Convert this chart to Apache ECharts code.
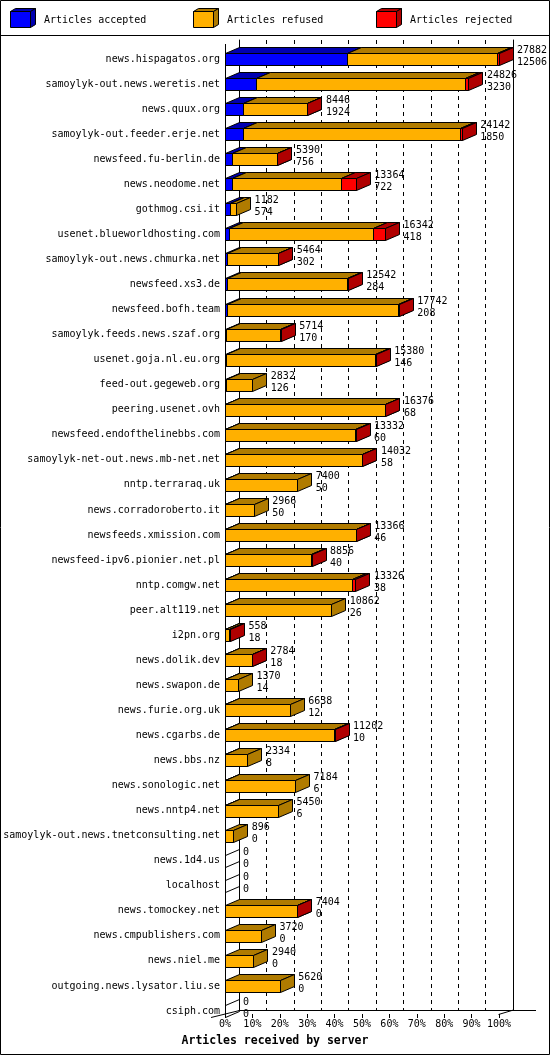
<!DOCTYPE html>
<html><head><meta charset="utf-8">
<style>html,body{margin:0;padding:0;background:#fff}#c{width:550px;height:1055px}</style>
<script src="https://cdn.jsdelivr.net/npm/echarts/dist/echarts.min.js"></script>
</head><body><div id="c"></div>
<script>
const categories = [
  'news.hispagatos.org','samoylyk-out.news.weretis.net','news.quux.org','samoylyk-out.feeder.erje.net',
  'newsfeed.fu-berlin.de','news.neodome.net','gothmog.csi.it','usenet.blueworldhosting.com',
  'samoylyk-out.news.chmurka.net','newsfeed.xs3.de','newsfeed.bofh.team','samoylyk.feeds.news.szaf.org',
  'usenet.goja.nl.eu.org','feed-out.gegeweb.org','peering.usenet.ovh','newsfeed.endofthelinebbs.com',
  'samoylyk-net-out.news.mb-net.net','nntp.terraraq.uk','news.corradoroberto.it','newsfeeds.xmission.com',
  'newsfeed-ipv6.pionier.net.pl','nntp.comgw.net','peer.alt119.net','i2pn.org','news.dolik.dev',
  'news.swapon.de','news.furie.org.uk','news.cgarbs.de','news.bbs.nz','news.sonologic.net',
  'news.nntp4.net','samoylyk-out.news.tnetconsulting.net','news.1d4.us','localhost','news.tomockey.net',
  'news.cmpublishers.com','news.niel.me','outgoing.news.lysator.liu.se','csiph.com'
];
// total articles offered (first label) and accepted (second label)
const totalArticles = [27882,24826,8446,24142,5390,13364,1182,16342,5464,12542,17742,5714,15380,2832,16376,13332,14032,7400,2966,13366,8856,13326,10862,558,2784,1370,6638,11202,2334,7184,5450,896,0,0,7404,3720,2940,5620,0];
const acceptedArticles = [12506,3230,1924,1850,756,722,574,418,302,284,208,170,146,126,68,60,58,50,50,46,40,38,26,18,18,14,12,10,8,6,6,0,0,0,0,0,0,0,0];
const refusedArticles = [15226,21196,6462,22092,4594,11162,608,14704,5132,12228,17494,5524,15204,2706,16278,13242,13944,7350,2916,13300,8796,12948,10836,480,2746,1356,6626,11142,2326,7178,5444,896,0,0,7384,3720,2940,5620,0];
const rejectedArticles = [150,400,60,200,40,1480,0,1220,30,30,40,20,30,0,30,30,30,0,0,20,20,340,0,60,20,0,0,50,0,0,0,0,0,0,20,0,0,0,0];
const seriesNames = ['Articles accepted','Articles refused','Articles rejected'];
const axisTitle = 'Articles received by server';

const maxTotal = Math.max(...totalArticles);
const FONT = '"DejaVu Sans Mono", monospace';
const FRONT = ['#0000ff', '#ffb000', '#ff0000'];
const DARK = ['#0000b0', '#b07b00', '#b00000'];
const DX = 14, DY = 6, HH = 6;

function poly(points, fill) {
  return {type: 'polygon', shape: {points: points}, style: {fill: fill || 'none', stroke: '#000', lineWidth: 1}};
}
function px(v) { return Math.round(v - 0.5) + 0.5; }

function renderItem(params, api) {
  const i = api.value(0);
  const vals = [api.value(1), api.value(2), api.value(3)];
  const total = api.value(4);
  const base = api.coord([0, i]);
  const top = Math.round(base[1] - HH) + 0.5;
  const bot = top + 2 * HH;
  const yc = (top + bot) / 2;
  const children = [];
  let x = px(base[0]);
  let cum = 0;
  for (let s = 0; s < 3; s++) {
    const v = vals[s];
    if (!(v > 0)) continue;
    cum += v;
    const x2 = px(api.coord([cum / maxTotal * 100, i])[0]);
    children.push(poly([[x, top], [x2, top], [x2, bot], [x, bot]], FRONT[s]));
    children.push(poly([[x, top], [x + DX, top - DY], [x2 + DX, top - DY], [x2, top]], DARK[s]));
    children.push(poly([[x2, top], [x2 + DX, top - DY], [x2 + DX, bot - DY], [x2, bot]], DARK[s]));
    x = x2;
  }
  if (total <= 0) {
    children.push(poly([[x, top], [x + DX, top - DY], [x + DX, bot - DY], [x, bot]], null));
  }
  const xe = api.coord([total / maxTotal * 100, i])[0] + DX + 4;
  children.push({type: 'text', style: {text: String(total), x: xe, y: yc - 9, verticalAlign: 'middle', font: '10px ' + FONT, fill: '#000'}});
  children.push({type: 'text', style: {text: String(vals[0]), x: xe, y: yc + 2.5, verticalAlign: 'middle', font: '10px ' + FONT, fill: '#000'}});
  return {type: 'group', children: children};
}

const data = categories.map((c, i) => [i, acceptedArticles[i], refusedArticles[i], rejectedArticles[i], totalArticles[i]]);

const chart = echarts.init(document.getElementById('c'), null, {renderer: 'canvas'});

function cube(x, s) {
  return [
    {type: 'rect', shape: {x: x + 0.5, y: 11.5, width: 20, height: 16}, style: {fill: FRONT[s], stroke: '#000', lineWidth: 1}},
    poly([[x + 0.5, 11.5], [x + 5.5, 8.5], [x + 25.5, 8.5], [x + 20.5, 11.5]], DARK[s]),
    poly([[x + 20.5, 11.5], [x + 25.5, 8.5], [x + 25.5, 24.5], [x + 20.5, 27.5]], DARK[s])
  ];
}
const legendX = [10, 193, 376];
const graphics = [
  {type: 'rect', shape: {x: 0.5, y: 0.5, width: 549, height: 1054}, style: {fill: 'none', stroke: '#000', lineWidth: 1}, z: 10},
  {type: 'line', shape: {x1: 0, y1: 35.5, x2: 550, y2: 35.5}, style: {stroke: '#000', lineWidth: 1}},
  {type: 'text', style: {text: axisTitle, x: 275, y: 1041, align: 'center', verticalAlign: 'middle', font: 'bold 11.5px ' + FONT, fill: '#000'}},
  {type: 'line', shape: {x1: 225.5, y1: 44, x2: 225.5, y2: 1014}, style: {stroke: '#000', lineWidth: 1}},
  {type: 'line', shape: {x1: 513, y1: 1010.5, x2: 536, y2: 1010.5}, style: {stroke: '#000', lineWidth: 1}},
  {type: 'line', shape: {x1: 211, y1: 1017.5, x2: 239.5, y2: 1010.5}, style: {stroke: '#000', lineWidth: 1}},
  {type: 'line', shape: {x1: 498.5, y1: 1014.5, x2: 513.5, y2: 1010}, style: {stroke: '#000', lineWidth: 1}}
];
legendX.forEach((x, s) => {
  cube(x, s).forEach(g => graphics.push(g));
  graphics.push({type: 'text', style: {text: seriesNames[s], x: x + 34, y: 20, verticalAlign: 'middle', font: '10px ' + FONT, fill: '#000'}});
});

chart.setOption({
  animation: false,
  backgroundColor: '#fff',
  grid: [
    {left: 225, top: 46.5, width: 274, height: 977},
    {left: 239, top: 40, width: 274, height: 970}
  ],
  xAxis: [
    {gridIndex: 0, type: 'value', min: 0, max: 100, interval: 10, offset: -9.5,
     axisLine: {show: false}, axisTick: {show: true, length: 4, lineStyle: {color: '#000'}},
     splitLine: {show: false},
     axisLabel: {formatter: '{value}%', color: '#000', fontFamily: FONT, fontSize: 10, margin: 5}},
    {gridIndex: 1, type: 'value', min: 0, max: 100, interval: 10,
     axisLine: {show: true, lineStyle: {color: '#000'}}, axisTick: {show: false}, axisLabel: {show: false},
     splitLine: {show: true, lineStyle: {color: '#000', type: [4, 4], width: 1}}}
  ],
  yAxis: [
    {gridIndex: 0, type: 'category', inverse: true, data: categories,
     axisLine: {show: false}, axisTick: {show: false}, splitLine: {show: false},
     axisLabel: {interval: 0, color: '#000', fontFamily: FONT, fontSize: 10, margin: 5}},
    {gridIndex: 1, type: 'value', min: 0, max: 1, position: 'left',
     axisLine: {show: true, lineStyle: {color: '#000'}}, axisTick: {show: false}, axisLabel: {show: false}, splitLine: {show: false}},
    {gridIndex: 1, type: 'value', min: 0, max: 1, position: 'right',
     axisLine: {show: true, lineStyle: {color: '#000'}}, axisTick: {show: false}, axisLabel: {show: false}, splitLine: {show: false}}
  ],
  series: [{
    type: 'custom', name: 'articles', xAxisIndex: 0, yAxisIndex: 0,
    renderItem: renderItem, data: data, clip: false, z: 5,
    encode: {x: 1, y: 0}
  }],
  graphic: graphics
});
</script></body></html>
